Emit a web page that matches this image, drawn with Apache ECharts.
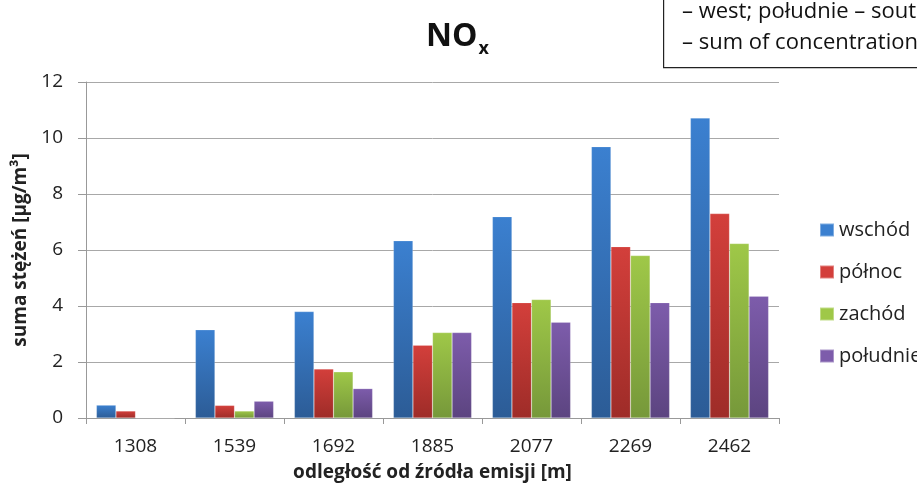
<!DOCTYPE html>
<html>
<head>
<meta charset="utf-8">
<script src="https://cdn.jsdelivr.net/npm/echarts@6/dist/echarts.min.js"></script>
<style>
  html, body { margin: 0; padding: 0; background: #fff; }
  #chart { width: 917px; height: 492px; }
</style>
</head>
<body>
<div id="chart"></div>
<script>
const categories = ['1308', '1539', '1692', '1885', '2077', '2269', '2462'];
const seriesNames = ['wschód', 'północ', 'zachód', 'południe'];
const wschod = [0.46, 3.15, 3.8, 6.33, 7.19, 9.69, 10.71];
const polnoc = [0.25, 0.45, 1.75, 2.6, 4.12, 6.12, 7.3];
const zachod = [0, 0.25, 1.65, 3.05, 4.23, 5.8, 6.23];
const poludnie = [0, 0.6, 1.05, 3.05, 3.42, 4.12, 4.35];
const noteLines = ['– west; południe – south;', '– sum of concentrations'];

const FONT = '"Open Sans", sans-serif';

function grad(top, bottom) {
  return new echarts.graphic.LinearGradient(0, 0, 0, 1, [
    { offset: 0, color: top },
    { offset: 1, color: bottom }
  ]);
}

const colors = [
  ['#3b80d0', '#2c5c96'],
  ['#d33f3b', '#9e2c28'],
  ['#9fc848', '#76983a'],
  ['#7d5cab', '#5c4480']
];
const values = [wschod, polnoc, zachod, poludnie];

const chart = echarts.init(document.getElementById('chart'));

const option = {
  animation: false,
  textStyle: { fontFamily: FONT },
  title: {
    text: '{main|NO}{sub|x}',
    left: 421,
    top: 10,
    textStyle: {
      rich: {
        main: { fontSize: 32, fontWeight: 'bold', color: '#111', fontFamily: FONT },
        sub: { fontSize: 18, fontWeight: 'bold', color: '#111', fontFamily: FONT, padding: [25, 0, 0, 1] }
      }
    }
  },
  grid: {
    left: 86,
    right: 138,
    top: 82,
    bottom: 74
  },
  legend: {
    orient: 'vertical',
    left: 814,
    top: 215,
    itemWidth: 14,
    itemHeight: 13,
    itemGap: 22,
    icon: 'rect',
    data: seriesNames.map((n, i) => ({ name: n, itemStyle: { color: colors[i][0] } })),
    textStyle: { fontSize: 20, lineHeight: 20, color: '#222' }
  },
  xAxis: {
    type: 'category',
    data: categories,
    name: 'odległość od źródła emisji [m]',
    nameLocation: 'middle',
    nameGap: 45,
    nameTextStyle: { fontSize: 19, fontWeight: 'bold', color: '#222' },
    axisLine: { lineStyle: { color: '#999' } },
    axisTick: { show: true, length: 6, lineStyle: { color: '#999' } },
    axisLabel: { fontSize: 19, color: '#222', margin: 19 }
  },
  yAxis: {
    type: 'value',
    min: 0,
    max: 12,
    interval: 2,
    name: 'suma stężeń [µg/m³]',
    nameLocation: 'middle',
    nameGap: 56,
    nameTextStyle: { fontSize: 19, fontWeight: 'bold', color: '#222' },
    axisLine: { show: true, lineStyle: { color: '#999' } },
    axisTick: { show: true, length: 8, lineStyle: { color: '#999' } },
    axisLabel: { fontSize: 19, color: '#222', margin: 23 },
    splitLine: { show: true, lineStyle: { color: '#a8a8a8' } }
  },
  graphic: [
    {
      type: 'rect',
      left: 663,
      top: -2,
      shape: { width: 270, height: 69 },
      style: { fill: '#fff', stroke: '#222', lineWidth: 1.2 },
      z: 10
    },
    {
      type: 'text',
      left: 682,
      top: 1,
      style: { text: noteLines[0], font: '22px ' + FONT, fill: '#111' },
      z: 11
    },
    {
      type: 'text',
      left: 682,
      top: 32,
      style: { text: noteLines[1], font: '22px ' + FONT, fill: '#111' },
      z: 11
    }
  ],
  series: seriesNames.map((name, i) => ({
    name: name,
    type: 'bar',
    data: values[i],
    barGap: '0%',
    barCategoryGap: '21%',
    itemStyle: {
      color: grad(colors[i][0], colors[i][1]),
      borderColor: 'rgba(255,255,255,0.35)',
      borderWidth: 0.5
    }
  }))
};

chart.setOption(option);
</script>
</body>
</html>
